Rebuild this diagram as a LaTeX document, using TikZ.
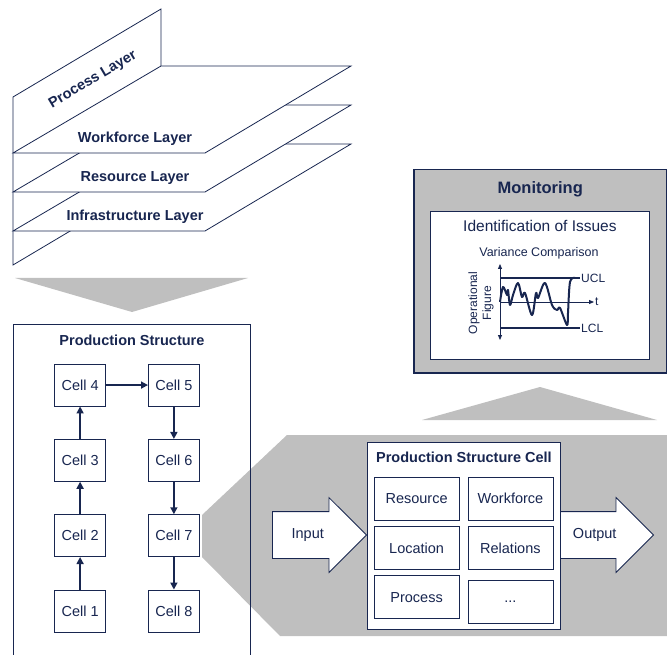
\documentclass[tikz,border=0pt]{standalone}
\usepackage{fontspec}
\setmainfont{Liberation Sans}
\usepackage{tikz}
\usetikzlibrary{calc,matrix,positioning,shapes.arrows,arrows.meta}

\definecolor{navy}{RGB}{24,38,80}
\definecolor{greyfill}{RGB}{191,191,191}

\newcommand{\basefont}{\fontsize{14.5}{17}\selectfont}
\newcommand{\chartfont}{\fontsize{12}{14}\selectfont}

\tikzset{
    layer/.style={draw=navy, fill=white, line width=0.8pt},
    layertext/.style={font=\basefont\bfseries},
    panel/.style={draw=navy, line width=0.9pt, inner sep=0pt},
    cellbox/.style={draw=navy, fill=white, line width=0.8pt, inner sep=0pt,
                    minimum width=51pt, minimum height=42pt, font=\basefont},
    partbox/.style={cellbox, minimum width=85pt, minimum height=43pt},
    flow/.style={navy, line width=1.6pt, -{Triangle[length=7pt,width=7pt]}},
    blockarrow/.style={single arrow, draw=navy, fill=white, line width=0.8pt,
                       font=\basefont, text height=10pt, text depth=3pt,
                       inner ysep=16.5pt, inner xsep=4pt,
                       single arrow head extend=14pt, minimum height=94pt},
    charttext/.style={font=\chartfont, inner sep=1pt},
}

\begin{document}
\begin{tikzpicture}[x=1pt, y=-1pt, every node/.style={text=navy}]
                      \useasboundingbox (0,0) rectangle (667,655);

                      \draw[layer] (13,97) -- (161,9) -- (161,177) -- (13,265) -- cycle;
                      \node[layertext, rotate=30.7] (process) at (93,80) {Process Layer};
                      \foreach \name/\y/\txt in {infra/231/Infrastructure Layer,
                                                 resource/192/Resource Layer,
                                                 workforce/153/Workforce Layer} {
                          \draw[layer] (13,\y) -- (205,\y) -- (351,\y-87) -- (161,\y-87) -- cycle;
                          \node[layertext] (\name) at (135,\y-14) {\txt};
                      }

                      \fill[greyfill] (15,278) -- (248,278) -- (132,312) -- cycle;
                      \fill[greyfill] (202,515) -- (287,435) -- (667,435) -- (667,636) -- (280,636) -- (202,557) -- cycle;
                      \fill[greyfill] (422,420) -- (657,420) -- (540,387) -- cycle;

                      \node[panel, anchor=north west, minimum width=237pt, minimum height=340pt] (structure) at (13,324) {};
                      \node[layertext] (structuretitle) at ($(structure.north)+(0,16)$) {Production Structure};

                      \matrix [%
                          matrix of nodes,
                          nodes=cellbox,
                          column sep=42pt,
                          row sep=32.5pt
                      ] (cells) at (127,498) {%
                          Cell 4 & Cell 5 \\
                          Cell 3 & Cell 6 \\
                          Cell 2 & Cell 7 \\
                          Cell 1 & Cell 8 \\
                      };

                      \path[flow] (cells-4-1) edge (cells-3-1)
                      (cells-3-1)             edge (cells-2-1)
                      (cells-2-1)             edge (cells-1-1)
                      (cells-1-1)             edge (cells-1-2)
                      (cells-1-2)             edge (cells-2-2)
                      (cells-2-2)             edge (cells-3-2)
                      (cells-3-2)             edge (cells-4-2);

                      \node[blockarrow, anchor=tip] (input) at (367,535) {Input};
                      \node[blockarrow, anchor=tip] (output) at (654,535) {Output};

                      \node[panel, fill=white, anchor=north west, minimum width=193pt, minimum height=187pt] (cellpanel) at (367,442) {};
                      \node[layertext] (cellpaneltitle) at ($(cellpanel.north)+(0,15)$) {Production Structure Cell};
                      \matrix [%
                          matrix of nodes,
                          nodes=partbox,
                          column sep=8pt,
                          row sep=5.5pt
                      ] (parts) at (463.5,550) {%
                          Resource & Workforce \\
                          Location & Relations \\
                          Process  & ...       \\
                      };

                      \node[panel, fill=greyfill, line width=1.5pt, anchor=north west, minimum width=253pt, minimum height=203pt] (monitor) at (413,169) {};
                      \node[font=\fontsize{16.5}{19}\selectfont\bfseries] (monitortitle) at ($(monitor.north)+(0,20)$) {Monitoring};
                      \node[panel, fill=white, line width=0.8pt, anchor=north west, minimum width=219pt, minimum height=148pt] (issues) at (430,211) {};
                      \node[font=\fontsize{15.5}{18}\selectfont] (issuestitle) at ($(issues.north)+(0,15)$) {Identification of Issues};
                      \node[font=\fontsize{12.5}{15}\selectfont] (variance) at (539,253) {Variance Comparison};

                      \coordinate (ytop) at (500,264);
                      \coordinate (ybot) at (500,340);
                      \coordinate (origin) at (500,302);
                      \coordinate (uclstart) at (500,278);
                      \coordinate (lclstart) at (500,328);
                      \node[charttext, anchor=west] (ucl) at (580,278) {UCL};
                      \node[charttext, anchor=west] (lcl) at (580,328) {LCL};
                      \node[charttext, anchor=west] (time) at (594,302) {t};
                      \node[charttext, rotate=90, align=center] (figure) at (481,303) {Operational\\Figure};

                      \draw[navy, line width=0.8pt, {Triangle[length=5pt,width=4pt]}-{Triangle[length=5pt,width=4pt]}] (ytop) -- (ybot);
                      \draw[navy, line width=0.8pt, -{Triangle[length=5pt,width=4pt]}] (origin) -- (time.west);
                      \draw[navy, line width=1.5pt] (uclstart) -- (ucl.west);
                      \draw[navy, line width=1.5pt] (lclstart) -- (lcl.west);
                      \draw[navy, line width=2pt, line join=round] plot[smooth, tension=0.55] coordinates {%
                          (500,302) (503,287) (507,295) (508,290) (510,305) (513,295) (518,283)
                          (522,297) (525,293) (532,315) (536,293) (538,298) (545,283) (552,305)
                          (557,310) (560,308) (567,325) (568,313) (570,282) (575,278)};
                  \end{tikzpicture}
\end{document}
